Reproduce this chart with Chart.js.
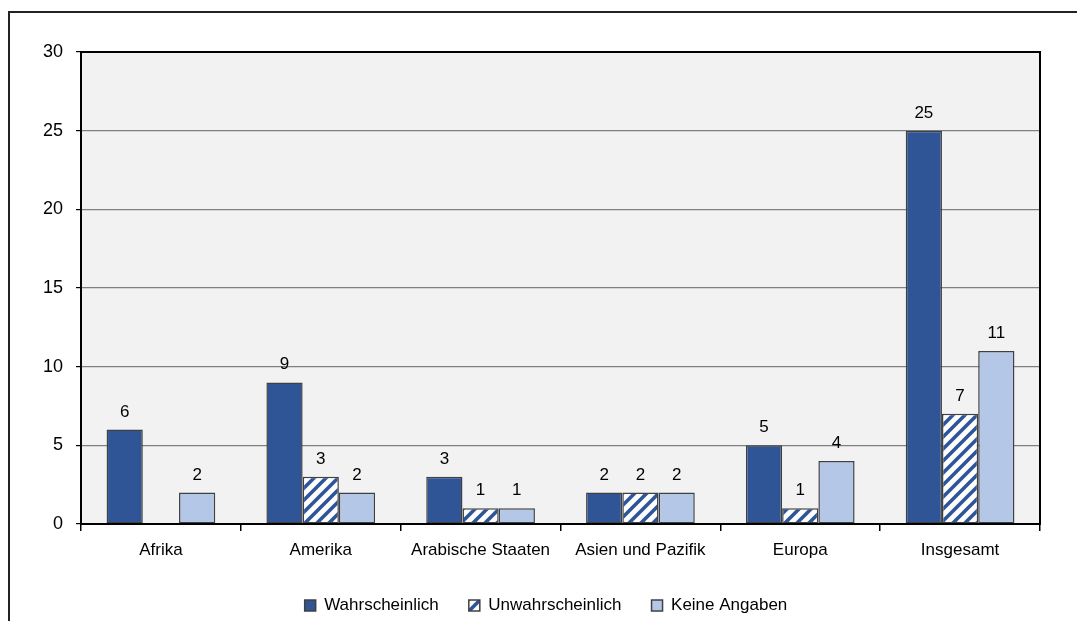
<!DOCTYPE html>
<html lang="de">
<head>
    <meta charset="UTF-8">
    <title>Einschätzung nach Regionen</title>
    <script src="https://cdn.jsdelivr.net/npm/chart.js"></script>
    <style>
        html, body { margin: 0; padding: 0; background: #fff; overflow: hidden; }
        .frame {
            position: absolute; left: 8px; top: 11px; width: 1200px; height: 700px;
            border-left: 2px solid #222; border-top: 2px solid #222;
        }
        .wrap { position: absolute; left: 0; top: 0; width: 1077px; height: 621px; }
    </style>
</head>
<body>
    <div class="frame"></div>
    <div class="wrap"><canvas id="regionChart"></canvas></div>

    <script>
        // Kategorien und Werte
        const regionen = ["Afrika", "Amerika", "Arabische Staaten", "Asien und Pazifik", "Europa", "Insgesamt"];
        const wahrscheinlich = [6, 9, 3, 2, 5, 25];
        const unwahrscheinlich = [0, 3, 1, 2, 1, 7];
        const keineAngaben = [2, 2, 1, 2, 4, 11];
        const serienNamen = ["Wahrscheinlich", "Unwahrscheinlich", "Keine Angaben"];
        const yTicks = [0, 5, 10, 15, 20, 25, 30];

        const dunkelblau = "#2F5597";
        const hellblau = "#B4C7E7";
        const fontName = "'Liberation Sans', Arial, sans-serif";

        // Schraffur fuer "Unwahrscheinlich"
        function makeHatch() {
            const s = 12;
            const c = document.createElement("canvas");
            c.width = s; c.height = s;
            const g = c.getContext("2d");
            g.fillStyle = "#fff";
            g.fillRect(0, 0, s, s);
            g.strokeStyle = dunkelblau;
            g.lineWidth = 3.6;
            g.beginPath();
            g.moveTo(-s / 2, s / 2); g.lineTo(s / 2, -s / 2);
            g.moveTo(0, s); g.lineTo(s, 0);
            g.moveTo(s / 2, s * 1.5); g.lineTo(s * 1.5, s / 2);
            g.stroke();
            return g.createPattern(c, "repeat");
        }
        const hatch = makeHatch();

        // Hintergrund und Rahmen der Zeichenflaeche
        const plotFrame = {
            id: "plotFrame",
            beforeDraw(chart) {
                const { ctx, chartArea: a } = chart;
                ctx.save();
                ctx.fillStyle = "#F2F2F2";
                ctx.fillRect(a.left, a.top, a.right - a.left, a.bottom - a.top);
                ctx.restore();
            },
            afterDatasetsDraw(chart) {
                const { ctx, chartArea: a } = chart;
                ctx.save();
                ctx.strokeStyle = "#000";
                ctx.lineWidth = 2;
                ctx.strokeRect(a.left, a.top, a.right - a.left, a.bottom - a.top);
                ctx.restore();
            }
        };

        // Legende etwas nach rechts schieben
        const legendShift = {
            id: "legendShift",
            afterLayout(chart) {
                const lg = chart.legend;
                if (!lg) return;
                lg.left += 26; lg.right += 26;
                lg.top += 3; lg.bottom += 3;
            }
        };

        // Zahlen ueber den Balken
        const barValues = {
            id: "barValues",
            afterDatasetsDraw(chart) {
                const { ctx } = chart;
                ctx.save();
                ctx.font = "17px " + fontName;
                ctx.fillStyle = "#000";
                ctx.textAlign = "center";
                ctx.textBaseline = "alphabetic";
                chart.data.datasets.forEach((ds, i) => {
                    chart.getDatasetMeta(i).data.forEach((bar, j) => {
                        const v = ds.data[j];
                        if (!v) return;
                        ctx.fillText(String(v), bar.x, bar.y - 13);
                    });
                });
                ctx.restore();
            }
        };

        const ctx = document.getElementById("regionChart").getContext("2d");
        new Chart(ctx, {
            type: "bar",
            data: {
                labels: regionen,
                datasets: [
                    { label: serienNamen[0], data: wahrscheinlich, backgroundColor: dunkelblau },
                    { label: serienNamen[1], data: unwahrscheinlich, backgroundColor: hatch },
                    { label: serienNamen[2], data: keineAngaben, backgroundColor: hellblau }
                ]
            },
            options: {
                responsive: true,
                maintainAspectRatio: false,
                animation: false,
                layout: { padding: { left: 0, right: 37, top: 52, bottom: 0 } },
                datasets: {
                    bar: {
                        borderColor: "#404040",
                        borderWidth: 1.5,
                        borderSkipped: false,
                        categoryPercentage: 0.68,
                        barPercentage: 1
                    }
                },
                scales: {
                    x: {
                        grid: {
                            offset: true,
                            drawOnChartArea: false,
                            color: "#000",
                            tickColor: "#000",
                            tickLength: 7,
                            lineWidth: 1.5
                        },
                        border: { display: true, color: "#000", width: 2 },
                        ticks: {
                            color: "#000",
                            font: { family: fontName, size: 17 },
                            padding: 9,
                            maxRotation: 0
                        },
                        afterFit(scale) { scale.height = 40; }
                    },
                    y: {
                        min: 0,
                        max: 30,
                        afterBuildTicks(scale) { scale.ticks = yTicks.map(v => ({ value: v })); },
                        grid: {
                            color: "#808080",
                            tickColor: "#000",
                            tickLength: 5,
                            lineWidth: 1.2
                        },
                        border: { display: true, color: "#000", width: 2 },
                        ticks: {
                            color: "#000",
                            font: { family: fontName, size: 18 },
                            padding: 13
                        },
                        afterFit(scale) { scale.width = 81; }
                    }
                },
                plugins: {
                    legend: {
                        position: "bottom",
                        labels: {
                            color: "#000",
                            font: { family: fontName, size: 17 },
                            boxWidth: 11,
                            boxHeight: 11,
                            padding: 30
                        }
                    },
                    tooltip: { enabled: false }
                }
            },
            plugins: [plotFrame, legendShift, barValues]
        });
    </script>
</body>
</html>
